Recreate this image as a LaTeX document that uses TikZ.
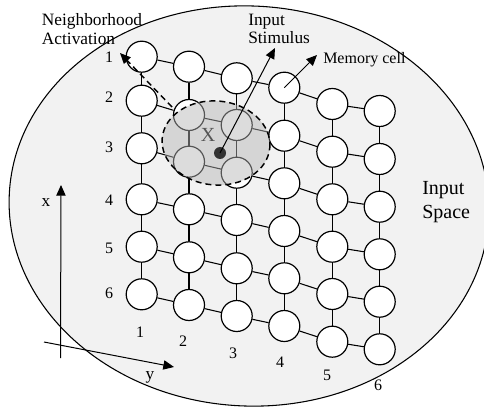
\documentclass[tikz,border=0pt]{standalone}
\usepackage{fontspec}
\setmainfont{Liberation Serif}
\usetikzlibrary{arrows.meta}
\definecolor{spacebg}{RGB}{242,242,242}
\definecolor{nbfill}{RGB}{182,182,182}
\definecolor{dotc}{RGB}{51,51,51}
\definecolor{xgray}{RGB}{85,85,85}
\tikzset{
  cell/.style={circle,draw,line width=0.9pt,fill=white,minimum size=23.25pt,inner sep=0pt},
  link/.style={line width=0.8pt},
  tip/.style={-{Triangle[length=8pt,width=7pt]}},
  lbl/.style={inner sep=0pt,font=\fontsize{13}{15}\selectfont},
  num/.style={inner sep=0pt,font=\fontsize{12}{14}\selectfont},
}
\begin{document}
\begin{tikzpicture}[x=0.75pt,y=-0.75pt]
\useasboundingbox (0,0) rectangle (484,409);
% input space
\draw[line width=0.8pt,fill=spacebg,rotate around={-3:(249,206)}] (249,206) ellipse [x radius=180pt, y radius=150pt];
% grid of memory cells
\foreach \c/\x/\ys in {1/141.7/{56.7,100.7,148.3,199.3,246.7,294.3},
                       2/189/{66.7,115,161.7,209.3,257.3,305},
                       3/236.7/{78.3,125,172.7,220,268.3,316},
                       4/284.3/{87.7,135.7,183.3,231,278.3,326},
                       5/332.3/{104,151.7,199.3,246.7,294,341.7},
                       6/379.7/{111,159,206.7,254.3,301.7,349.3}}{
  \foreach \y [count=\r] in \ys {\node[cell] (n\c\r) at (\x,\y) {};}
}
\foreach \c in {1,...,6}{
  \foreach \r [evaluate=\r as \rn using int(\r+1)] in {1,...,5}{
    \draw[link] (n\c\r) -- (n\c\rn);
  }
}
\foreach \c [evaluate=\c as \cn using int(\c+1)] in {1,...,5}{
  \foreach \r in {1,...,6}{
    \draw[link] (n\c\r) -- (n\cn\r);
  }
}
% neighborhood
\fill[nbfill,fill opacity=0.47,rotate around={-5:(216,143)}] (216,143) ellipse [x radius=40.5pt, y radius=31.5pt];
\draw[line width=1.1pt,dash pattern=on 4.5pt off 3pt,rotate around={-5:(216,143)}] (216,143) ellipse [x radius=40.5pt, y radius=31.5pt];
\node[inner sep=0pt,text=xgray,font=\fontsize{15}{17}\selectfont] (xl) at (208,135) {X};
\node[circle,fill=dotc,minimum size=9pt,inner sep=0pt] (dot) at (220,153) {};
% annotation arrows
\coordinate (stimtip) at (275,48);
\coordinate (memtip) at (317,55);
\coordinate (nbstart) at (172,107);
\coordinate (nbtip) at (120,53);
\draw[line width=0.75pt,tip] (dot.center) -- (stimtip);
\draw[line width=0.75pt,tip] (n41.center) -- (memtip);
\draw[line width=1.1pt,dash pattern=on 4.5pt off 3pt,tip] (nbstart) -- (nbtip);
% labels
\node[lbl,anchor=base west] (nb1) at (41.7,26) {Neighborhood};
\node[lbl,anchor=base west] (nb2) at (41.7,45) {Activation};
\node[lbl,anchor=base west] (is1) at (248,26) {Input};
\node[lbl,anchor=base west] (is2) at (248,44) {Stimulus};
\node[num,anchor=base west] (mc) at (323,64) {Memory cell};
\node[inner sep=0pt,anchor=base west,font=\fontsize{15}{17}\selectfont] (sp1) at (422,195) {Input};
\node[inner sep=0pt,anchor=base west,font=\fontsize{15}{17}\selectfont] (sp2) at (422,218.5) {Space};
% row numbers
\foreach \r/\y in {1/57,2/97,3/147,4/200,5/248,6/293}{
  \node[num] (rl\r) at (109,\y) {\r};
}
% column numbers
\foreach \c/\x/\y in {1/140/332,2/183/341,3/233/353,4/280/362,5/327/375,6/378/385}{
  \node[num] (cl\c) at (\x,\y) {\c};
}
% axes
\coordinate (xa0) at (60.5,358);
\coordinate (xa1) at (61,185);
\coordinate (ya0) at (44,342);
\coordinate (ya1) at (174,367);
\draw[line width=0.75pt,tip] (xa0) -- (xa1);
\draw[line width=0.75pt,tip] (ya0) -- (ya1);
\node[lbl] (xlab) at (46,203) {x};
\node[lbl] (ylab) at (150,377) {y};
\end{tikzpicture}
\end{document}
